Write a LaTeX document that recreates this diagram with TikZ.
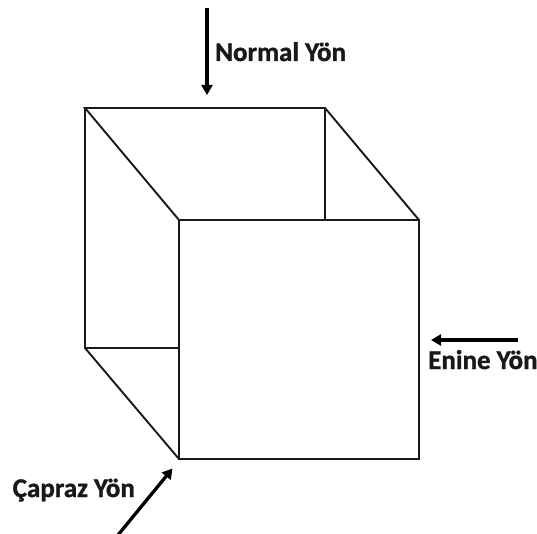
\documentclass[tikz,border=0pt]{standalone}
\usepackage{fontspec}
\setmainfont[BoldFeatures={FakeBold=1.2}]{Carlito}
\usetikzlibrary{arrows.meta}
\tikzset{
  edgeline/.style={draw=black!90,line width=1.9pt},
  dirarrow/.style={draw=black,line width=3.3pt,-{Triangle[length=10pt,width=11pt]}},
  dirlabel/.style={anchor=base west,inner sep=0pt,font=\fontsize{27pt}{30pt}\selectfont\bfseries,text=black!90}
}
\begin{document}
\begin{tikzpicture}[x=1pt,y=-1pt]
\useasboundingbox (0,0) rectangle (537,534);
\coordinate (btl) at (85,108);
\coordinate (btr) at (325,108);
\coordinate (bbl) at (85,348);
\coordinate (ftl) at (179,220);
\coordinate (ftr) at (419,220);
\coordinate (fbl) at (179,459);
\coordinate (fbr) at (419,459);
\coordinate (bri) at (325,220);
\coordinate (bbi) at (179,348);
\draw[edgeline,line join=miter] (ftl) -- (ftr) -- (fbr) -- (fbl) -- cycle;
\draw[edgeline,line join=miter] (ftl) -- (btl) -- (btr) -- (ftr);
\draw[edgeline] (btl) -- (bbl) -- (fbl);
\draw[edgeline] (btr) -- (bri);
\draw[edgeline] (bbl) -- (bbi);
\coordinate (ntail) at (207,8);
\coordinate (ntip) at (207,95);
\coordinate (etail) at (518,340);
\coordinate (etip) at (431,340);
\coordinate (ctail) at (118,535);
\coordinate (ctip) at (172.5,468.5);
\draw[dirarrow] (ntail) -- (ntip);
\draw[dirarrow] (etail) -- (etip);
\draw[dirarrow] (ctail) -- (ctip);
\node[dirlabel] (nl) at (215,61) {Normal Yön};
\node[dirlabel] (el) at (428,369) {Enine Yön};
\node[dirlabel] (cl) at (12.5,497) {Çapraz Yön};
\end{tikzpicture}
\end{document}
